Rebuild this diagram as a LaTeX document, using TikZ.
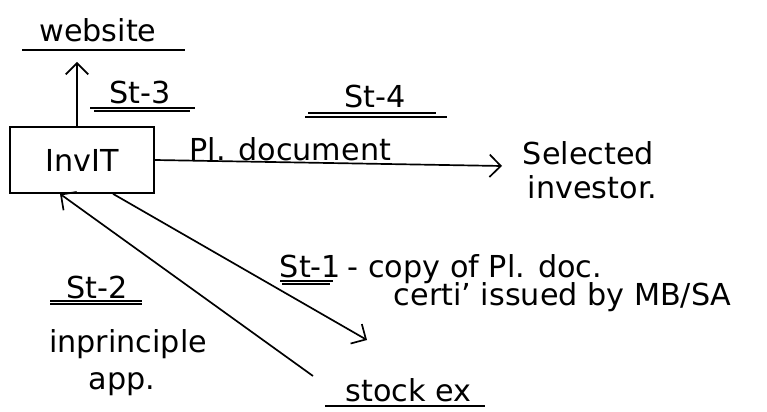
\documentclass[tikz,border=0pt]{standalone}
\usepackage{fontspec}
\setmainfont{DejaVu Sans}
\usetikzlibrary{arrows.meta}

\begin{document}
\begin{tikzpicture}[x=0.025cm, y=-0.025cm, line width=1.2pt,
    font=\fontsize{21.5}{26}\selectfont, inner sep=0pt,
    tip/.style={-{Straight Barb[length=8pt, width=16pt]}},
    uline/.style={line width=0.9pt}]
  \useasboundingbox (0,0) rectangle (767,412);
  % Box
  \node[draw, minimum width=3.6cm, minimum height=1.65cm] (invit) at (82,160) {InvIT};
  % Up to the website
  \node[anchor=base] (web) at (98,42) {website};
  \draw[uline] (22,50) -- (185,50);
  \coordinate (webtip) at (77,62);
  \draw[tip] (invit.north -| webtip) -- (webtip);
  \node[anchor=base] (st3) at (140,104) {St-3};
  \draw[uline] (90,108) -- (195,108);
  \draw[uline] (94,111) -- (190,111);
  % Right: selected investor
  \node[anchor=base west] (sel) at (522,165) {Selected};
  \node[anchor=base west] (inv) at (527,198) {investor.};
  \coordinate (invtip) at (502,166);
  \draw[tip] (invit.east) -- (invtip)
      node[pos=0.39, above=0.5pt] (pldoc) {Pl. document};
  \node[anchor=base] (st4) at (375,108) {St-4};
  \draw[uline] (308,113) -- (436,113);
  \draw[uline] (305,117) -- (447,117);
  % Down: stock exchange
  \node[anchor=base west] (stock) at (345,401) {stock ex};
  \draw[uline] (325,406) -- (485,406);
  \coordinate (st1tip) at (367,340);
  \coordinate (st2tail) at (313,376);
  \draw[tip] ([xshift=0.775cm]invit.south) -- (st1tip);
  \draw[tip] (st2tail) -- ([xshift=-0.55cm]invit.south);
  \node[anchor=base west] (st1) at (279,277) {St-1};
  \draw[uline] (280,281) -- (333,281);
  \draw[uline] (282,284) -- (330,284);
  \node[anchor=base west] (copy) at (347,277) {- copy of Pl. doc.};
  \node[anchor=base west] (certi) at (393,305) {certi' issued by MB/SA};
  % Left: in-principle approval
  \node[anchor=base] (st2) at (97,298) {St-2};
  \draw[uline] (50,301) -- (142,301);
  \draw[uline] (50,304) -- (142,304);
  \node[anchor=base] (inpr) at (128,352) {inprinciple};
  \node[anchor=base] (app) at (122,389) {app.};
\end{tikzpicture}
\end{document}
